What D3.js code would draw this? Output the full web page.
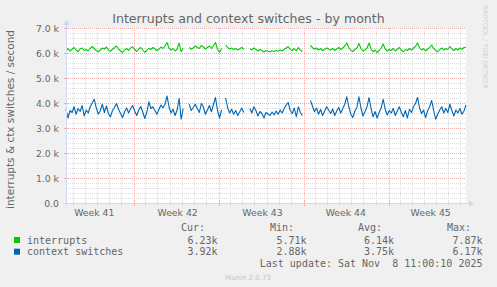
<!DOCTYPE html>
<html><head><meta charset="utf-8">
<script src="https://cdn.jsdelivr.net/npm/d3@7"></script>
<style>html,body{margin:0;padding:0;background:#F0F0F0;}svg{display:block;}</style>
</head><body>
<script>
// ---- data (values in thousands per second, 4-hour averages, null = no data) ----
const startTime = "2025-10-06T11:00:00Z";
const endTime = "2025-11-08T11:00:00Z";
const stepHours = 4;
const interrupts = [
6.10,6.18,6.08,6.15,6.22,6.12,6.05,6.17,6.20,6.10,
6.14,6.08,6.19,6.26,6.18,6.10,6.05,6.12,6.20,6.16,
6.24,6.12,6.07,6.15,6.21,6.28,6.16,6.08,6.02,6.12,
6.18,6.10,6.20,6.25,6.14,6.06,6.16,6.22,6.12,6.03,
6.10,6.19,6.14,6.22,6.17,6.09,6.15,6.24,6.18,6.28,
6.42,6.20,6.12,6.18,6.08,6.15,6.40,6.05,6.20,null,
null,6.22,6.15,6.20,6.28,6.22,6.18,6.30,6.24,6.16,
6.22,6.28,6.18,6.30,6.42,6.15,6.02,6.18,null,6.32,
6.22,6.16,6.20,6.14,6.18,6.12,6.17,6.22,6.15,null,
null,6.18,6.12,6.20,6.15,6.08,6.14,6.10,6.04,6.10,
6.07,6.05,6.09,6.06,6.10,6.07,6.12,6.08,6.15,6.20,
6.26,6.14,6.10,6.18,6.08,6.22,6.12,6.06,null,null,
null,6.30,6.22,6.15,6.20,6.12,6.18,6.10,6.14,6.20,
6.16,6.12,6.18,6.10,6.16,6.22,6.14,6.20,6.28,6.40,
6.22,6.10,6.06,6.14,6.20,6.38,6.18,6.08,6.12,6.20,
6.40,6.16,6.05,6.12,6.02,6.10,6.20,6.36,6.16,6.08,
6.14,6.10,6.18,6.08,6.15,6.22,6.12,6.05,6.14,6.10,
6.18,6.12,6.20,6.26,6.40,6.22,6.12,6.18,6.08,6.16,
6.22,6.32,6.18,6.10,6.05,6.14,6.20,6.12,6.18,6.14,
6.26,6.16,6.10,6.18,6.12,6.20,6.15,6.22,6.23
];
const contextSwitches = [
3.75,3.40,3.70,3.62,3.85,3.55,3.78,3.66,3.90,3.48,
3.72,3.60,3.85,4.00,4.15,3.80,3.55,3.70,3.95,3.62,
3.88,3.58,3.45,3.70,3.82,3.98,3.75,3.58,3.42,3.65,
3.80,3.60,3.78,3.90,3.68,3.50,3.72,3.86,3.64,3.38,
3.62,4.05,3.78,3.85,3.70,3.55,3.74,3.92,3.80,3.95,
4.28,3.85,3.60,3.75,3.50,3.72,4.18,3.35,3.78,null,
null,3.95,3.70,3.82,3.95,3.78,3.62,3.98,3.84,3.55,
3.72,3.90,3.65,3.95,4.22,3.70,3.40,3.72,null,4.20,
3.82,3.60,3.75,3.55,3.70,3.50,3.65,3.80,3.62,null,
null,3.78,3.60,3.85,3.70,3.48,3.66,3.58,3.40,3.62,
3.55,3.50,3.64,3.52,3.68,3.55,3.72,3.60,3.78,3.92,
4.02,3.70,3.58,3.80,3.45,3.85,3.62,3.50,null,null,
null,4.10,3.88,3.65,3.80,3.55,3.74,3.50,3.66,3.85,
3.72,3.58,3.76,3.50,3.68,3.82,3.60,3.78,3.95,4.25,
3.85,3.55,3.42,3.68,3.82,4.25,3.80,3.48,3.65,3.85,
4.22,3.78,3.45,3.66,3.40,3.62,3.80,4.15,3.75,3.52,
3.70,3.60,3.78,3.50,3.68,3.85,3.62,3.45,3.70,3.40,
3.75,3.62,3.85,3.98,4.22,3.80,3.58,3.72,3.42,3.68,
3.85,4.10,3.70,3.35,3.55,3.72,3.85,3.60,3.78,3.62,
3.95,3.70,3.48,3.72,3.60,3.78,3.55,3.68,3.92
];
const yTickValues = [0,1,2,3,4,5,6,7];
const yTickLabels = ["0.0","1.0 k","2.0 k","3.0 k","4.0 k","5.0 k","6.0 k","7.0 k"];
const weekLabels = ["Week 41","Week 42","Week 43","Week 44","Week 45"];
const weekLabelTimes = ["2025-10-08T18:00:00Z","2025-10-15T15:00:00Z","2025-10-22T15:00:00Z","2025-10-29T12:00:00Z","2025-11-05T12:00:00Z"];
const seriesNames = ["interrupts","context switches"];
const seriesColors = ["#00CC00","#0066B3"];
const legendCur = ["6.23k","3.92k"];
const legendMin = ["5.71k","2.88k"];
const legendAvg = ["6.14k","3.75k"];
const legendMax = ["7.87k","6.17k"];

// ---- drawing ----
const W = 497, H = 287;
const X0 = 66, X1 = 466, Y0 = 203, Y1 = 28;
const svg = d3.select("body").append("svg").attr("width", W).attr("height", H);
svg.append("rect").attr("width", W).attr("height", H).attr("fill", "#F0F0F0");

const t0 = new Date(startTime), t1 = new Date(endTime);
const x = d3.scaleUtc().domain([t0, t1]).range([X0, X1]);
const y = d3.scaleLinear().domain([0, 7]).range([Y0, Y1]);

svg.append("rect").attr("x", X0).attr("y", Y1).attr("width", X1 - X0).attr("height", Y0 - Y1).attr("fill", "#FFFFFF");

const g = svg.append("g");
const minorCol = "#DCDCDC", majorCol = "#EFAFAF";
// horizontal minor grid
d3.range(0, 7.0001, 0.2).forEach(v => {
  const major = Math.abs(v - Math.round(v)) < 1e-6;
  if (major) return;
  g.append("line").attr("x1", X0).attr("x2", X1).attr("y1", Math.round(y(v)) + 0.5).attr("y2", Math.round(y(v)) + 0.5)
    .attr("stroke", minorCol).attr("stroke-dasharray", "1,1");
});
// vertical minor grid (daily)
const days = d3.utcDay.range(t0, t1);
days.forEach(d => {
  if (d.getUTCDay() === 0) return;
  const xp = Math.round(x(d)) + 0.5;
  g.append("line").attr("x1", xp).attr("x2", xp).attr("y1", Y1).attr("y2", Y0)
    .attr("stroke", minorCol).attr("stroke-dasharray", "1,1");
  g.append("line").attr("x1", xp).attr("x2", xp).attr("y1", Y0 - 1).attr("y2", Y0 + 2).attr("stroke", "#D0D0D0");
});
// major horizontal
yTickValues.forEach(v => {
  if (v === 0) return;
  const yp = Math.round(y(v)) + 0.5;
  g.append("line").attr("x1", X0).attr("x2", X1).attr("y1", yp).attr("y2", yp)
    .attr("stroke", majorCol).attr("stroke-dasharray", "1,1");
  g.append("line").attr("x1", X0 - 2).attr("x2", X0 + 2).attr("y1", yp).attr("y2", yp).attr("stroke", majorCol);
});
// major vertical (weekly, Sunday 00:00)
days.filter(d => d.getUTCDay() === 0).forEach(d => {
  const xp = Math.round(x(d)) + 1.5;
  g.append("line").attr("x1", xp).attr("x2", xp).attr("y1", Y1).attr("y2", Y0)
    .attr("stroke", majorCol).attr("stroke-dasharray", "1,1");
  g.append("line").attr("x1", xp).attr("x2", xp).attr("y1", Y0 - 2).attr("y2", Y0 + 3).attr("stroke", majorCol);
});

// series lines
const times = interrupts.map((_, i) => new Date(t0.getTime() + i * stepHours * 3600e3));
const line = d3.line().defined(d => d[1] !== null).x(d => x(d[0])).y(d => y(d[1]));
[interrupts, contextSwitches].forEach((s, k) => {
  svg.append("path").datum(s.map((v, i) => [times[i], v]))
    .attr("fill", "none").attr("stroke", seriesColors[k]).attr("stroke-width", 1.1)
    .attr("stroke-linejoin", "round").attr("d", line);
});

// axes
const axisCol = "#CFD6F8";
svg.append("line").attr("x1", X0 - 3).attr("x2", X1 + 4).attr("y1", Y0 + 0.5).attr("y2", Y0 + 0.5).attr("stroke", axisCol);
svg.append("line").attr("x1", X0 + 0.5).attr("x2", X0 + 0.5).attr("y1", Y0 + 3).attr("y2", Y1 - 4).attr("stroke", axisCol);
svg.append("path").attr("d", `M${X1 + 3},${Y0 - 3} L${X1 + 8},${Y0 + 0.5} L${X1 + 3},${Y0 + 4} Z`).attr("fill", axisCol);
svg.append("path").attr("d", `M${X0 - 3},${Y1 - 3} L${X0 + 0.5},${Y1 - 8} L${X0 + 4},${Y1 - 3} Z`).attr("fill", axisCol);

const font = "'DejaVu Sans', sans-serif";
const mono = "'DejaVu Sans Mono', monospace";
const textCol = "#666666";

// y tick labels
const yAxis = d3.axisLeft(y).tickValues(yTickValues).tickFormat((d, i) => yTickLabels[i]).tickSize(0).tickPadding(7);
const ya = svg.append("g").attr("transform", `translate(${X0},0)`).call(yAxis);
ya.select(".domain").remove();
ya.selectAll("text").attr("font-family", font).attr("font-size", "9.3px").attr("fill", textCol).attr("dy", "0.36em");

// x week labels
const xAxis = d3.axisBottom(x).tickValues(weekLabelTimes.map(s => new Date(s))).tickFormat((d, i) => weekLabels[i]).tickSize(0).tickPadding(6);
const xa = svg.append("g").attr("transform", `translate(0,${Y0})`).call(xAxis);
xa.select(".domain").remove();
xa.selectAll("text").attr("font-family", font).attr("font-size", "9.3px").attr("fill", textCol);

// title
svg.append("text").attr("x", 248.5).attr("y", 23).attr("text-anchor", "middle")
  .attr("font-family", font).attr("font-size", "12.6px").attr("fill", textCol)
  .text("Interrupts and context switches - by month");

// vertical axis title
svg.append("text").attr("transform", `translate(14,${(Y0 + Y1) / 2 + 4}) rotate(-90)`).attr("text-anchor", "middle")
  .attr("font-family", font).attr("font-size", "10.5px").attr("fill", textCol)
  .text("interrupts & ctx switches / second");

// watermark right
svg.append("text").attr("transform", `translate(483,5) rotate(90)`).attr("text-anchor", "start")
  .attr("font-family", font).attr("font-size", "6.5px").attr("fill", "#D0D0D0")
  .text("RRDTOOL / TOBI OETIKER");

// legend
const lg = svg.append("g").attr("font-family", mono).attr("font-size", "10px").attr("fill", textCol);
const colsHead = [["Cur:", 181], ["Min:", 270], ["Avg:", 358], ["Max:", 447]];
colsHead.forEach(([t, xp]) => lg.append("text").attr("x", xp).attr("y", 231).text(t));
const colsRight = [217.5, 306.5, 394, 482.5];
seriesNames.forEach((n, k) => {
  const yb = 243.5 + k * 11.7;
  svg.append("rect").attr("x", 14).attr("y", yb - 6.5 ).attr("width", 6).attr("height", 6).attr("fill", seriesColors[k]);
  lg.append("text").attr("x", 27).attr("y", yb).text(n);
  [legendCur, legendMin, legendAvg, legendMax].forEach((arr, c) => {
    lg.append("text").attr("x", colsRight[c]).attr("y", yb).attr("text-anchor", "end").text(arr[k]);
  });
});
lg.append("text").attr("x", 482.5).attr("y", 266.5).attr("text-anchor", "end")
  .attr("xml:space", "preserve").style("white-space", "pre")
  .text("Last update: Sat Nov  8 11:00:10 2025");

svg.append("text").attr("x", 248).attr("y", 280).attr("text-anchor", "middle")
  .attr("font-family", font).attr("font-size", "7px").attr("fill", "#C4C4C4")
  .text("Munin 2.0.73");
</script>
</body></html>
